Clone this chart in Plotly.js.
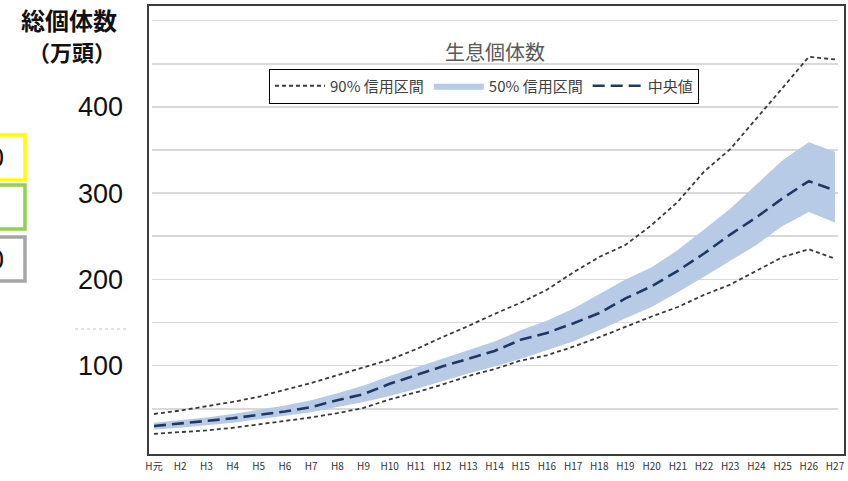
<!DOCTYPE html>
<html>
<head>
<meta charset="utf-8">
<script src="https://cdn.plot.ly/plotly-3.0.1.min.js"></script>
<style>
  html, body { margin: 0; padding: 0; background: #fff; }
  #chart { width: 848px; height: 481px; }
</style>
</head>
<body>
<div id="chart"></div>
<script>
// Fiscal years (Heisei era)
const years = ['H元','H2','H3','H4','H5','H6','H7','H8','H9','H10','H11','H12','H13','H14',
               'H15','H16','H17','H18','H19','H20','H21','H22','H23','H24','H25','H26','H27'];

// Estimated population (10,000 head)
const median    = [30, 33, 36, 39, 43, 47, 52, 60, 67, 79, 89, 99, 108, 117,
                   130, 138, 149, 161, 178, 192, 210, 230, 252, 272, 294, 314, 303];
const ci50Upper = [34, 37, 40, 44, 49, 54, 60, 68, 77, 88, 98, 108, 118, 128,
                   141, 152, 166, 183, 200, 214, 234, 258, 282, 310, 338, 359, 348];
const ci50Lower = [26, 28, 31, 34, 38, 42, 46, 52, 58, 65, 73, 82, 91, 99,
                   108, 118, 128, 141, 155, 168, 185, 203, 222, 240, 262, 278, 266];
const ci90Upper = [44, 48, 53, 58, 64, 72, 80, 89, 98, 107, 119, 133, 146, 160,
                   173, 188, 208, 226, 240, 263, 290, 325, 351, 386, 422, 458, 455];
const ci90Lower = [21, 23, 25, 28, 32, 36, 40, 45, 51, 61, 69, 78, 88, 96,
                   106, 112, 122, 133, 145, 157, 168, 182, 194, 210, 226, 235, 224];

// Gridlines every 50, labels every 100
const gridVals  = [50, 100, 150, 200, 250, 300, 350, 400, 450, 500];
const gridText  = ['', '100', '', '200', '', '300', '', '400', '', ''];

const jp = '"Noto Sans CJK JP", "Noto Sans", sans-serif';
const num = '"Liberation Sans", Arial, sans-serif';
const dotted = '4px,3px';

const traces = [
  { x: years, y: ci50Lower, type: 'scatter', mode: 'lines',
    line: { width: 0, color: '#b7cae6' }, showlegend: false, hoverinfo: 'skip' },
  { x: years, y: ci50Upper, type: 'scatter', mode: 'lines', name: '50% 信用区間',
    fill: 'tonexty', fillcolor: '#b7cae6', line: { width: 0, color: '#b7cae6' },
    legendrank: 2 },
  { x: years, y: ci90Upper, type: 'scatter', mode: 'lines', name: '90% 信用区間',
    legendgroup: 'ci90', legendrank: 1,
    line: { color: '#3a3a3a', width: 1.8, dash: dotted } },
  { x: years, y: ci90Lower, type: 'scatter', mode: 'lines', name: '90% 信用区間',
    legendgroup: 'ci90', showlegend: false,
    line: { color: '#3a3a3a', width: 1.8, dash: dotted } },
  { x: years, y: median, type: 'scatter', mode: 'lines', name: '中央値',
    legendrank: 3,
    line: { color: '#1f3864', width: 2.6, dash: '12px,6px' } }
];

// plot area: left 152, right 838, top 8, bottom 453
const PL = 152, PR = 838, PT = 8, PB = 453;
const px = v => (v - PL) / (PR - PL);
const py = v => (PB - v) / (PB - PT);

const shapes = [
  // chart frame
  { type: 'rect', xref: 'paper', yref: 'paper',
    x0: px(148), x1: px(845), y0: py(455), y1: py(5),
    line: { color: '#3c3c3c', width: 2 }, layer: 'above' },
  // side markers
  { type: 'rect', xref: 'paper', yref: 'paper',
    x0: px(-30), x1: px(25), y0: py(180), y1: py(135),
    line: { color: '#ffff00', width: 3.5 } },
  { type: 'rect', xref: 'paper', yref: 'paper',
    x0: px(-30), x1: px(25), y0: py(229), y1: py(185),
    line: { color: '#92d050', width: 3.5 } },
  { type: 'rect', xref: 'paper', yref: 'paper',
    x0: px(-30), x1: px(25), y0: py(281), y1: py(237),
    line: { color: '#a6a6a6', width: 3.5 } },
  { type: 'line', xref: 'paper', yref: 'paper',
    x0: px(75), x1: px(127), y0: py(329), y1: py(329),
    line: { color: '#c8c8c8', width: 1, dash: 'dot' } }
];

const annotations = [
  { xref: 'paper', yref: 'paper', x: px(69), y: py(19), xanchor: 'center', yanchor: 'middle',
    text: '<b>総個体数</b>', showarrow: false,
    font: { family: jp, size: 24, color: '#111' } },
  { xref: 'paper', yref: 'paper', x: px(72), y: py(51), xanchor: 'center', yanchor: 'middle',
    text: '<b>（万頭）</b>', showarrow: false,
    font: { family: jp, size: 22, color: '#111' } },
  { xref: 'paper', yref: 'paper', x: px(6), y: py(158), xanchor: 'right', yanchor: 'middle',
    text: '0', showarrow: false,
    font: { family: num, size: 27, color: '#111' } },
  { xref: 'paper', yref: 'paper', x: px(6), y: py(260), xanchor: 'right', yanchor: 'middle',
    text: '0', showarrow: false,
    font: { family: num, size: 27, color: '#111' } }
];

const layout = {
  width: 848, height: 481,
  margin: { l: PL, r: 848 - PR, t: PT, b: 481 - PB, pad: 0 },
  paper_bgcolor: '#fff', plot_bgcolor: '#fff',
  title: { text: '生息個体数', xref: 'paper', x: px(495), xanchor: 'center',
           yref: 'container', y: 1 - 53 / 481, yanchor: 'middle',
           font: { family: jp, size: 20, color: '#595959' } },
  xaxis: {
    type: 'category', range: [-0.076, 26.115],
    showgrid: false, zeroline: false, showline: false, ticks: '',
    tickfont: { family: jp, size: 10, color: '#333' },
    ticklabelstandoff: 6, fixedrange: true
  },
  yaxis: {
    range: [-1.2, 514.6], tickmode: 'array', tickvals: gridVals, ticktext: gridText,
    showgrid: true, gridcolor: '#d9d9d9', gridwidth: 1.6,
    zeroline: false, showline: false, ticks: '',
    tickfont: { family: num, size: 27, color: '#111' },
    ticklabelstandoff: 28, fixedrange: true
  },
  legend: {
    orientation: 'h', x: px(484), xanchor: 'center', y: py(86), yanchor: 'middle',
    bordercolor: '#000', borderwidth: 1, bgcolor: '#fff',
    font: { family: jp, size: 15, color: '#404040' },
    itemwidth: 50, traceorder: 'normal'
  },
  shapes: shapes,
  annotations: annotations,
  showlegend: true
};

Plotly.newPlot('chart', traces, layout, { staticPlot: true, displayModeBar: false });
</script>
</body>
</html>
